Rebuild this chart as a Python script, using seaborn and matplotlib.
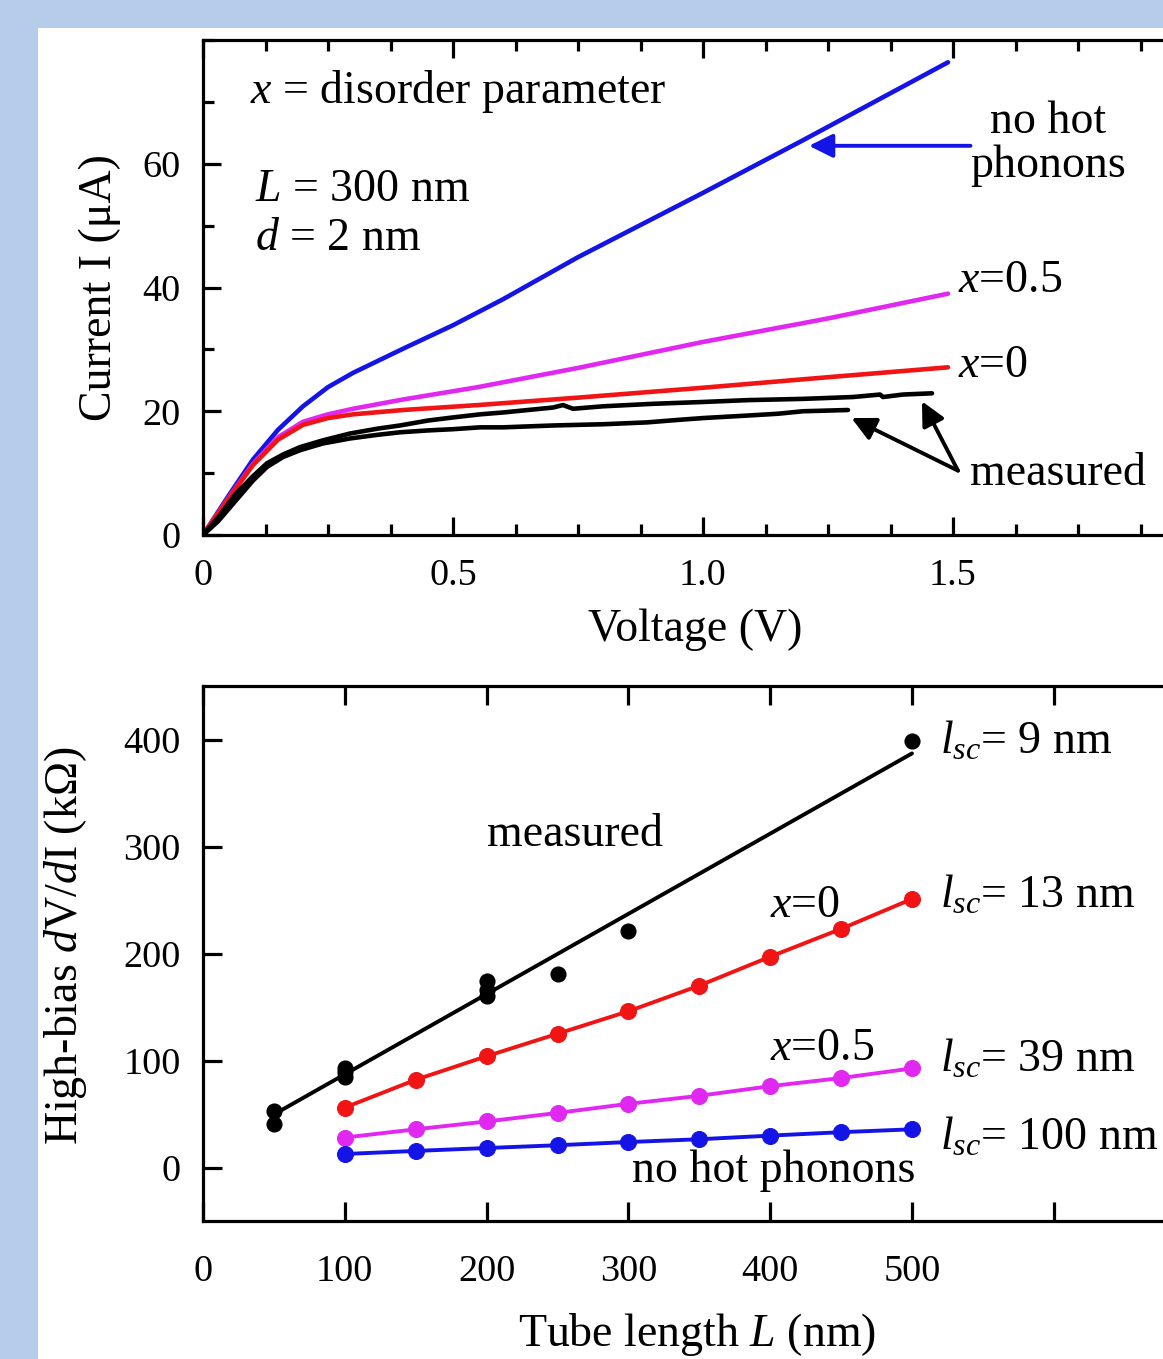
import numpy as np
import pandas as pd
import matplotlib
matplotlib.use("Agg")
import matplotlib.pyplot as plt
import seaborn as sns
from matplotlib.ticker import MultipleLocator, FixedLocator
from matplotlib.patches import Rectangle

# ---------------- data: top panel (I-V curves) ----------------
v_nohot = [0, 0.05, 0.1, 0.15, 0.2, 0.25, 0.3, 0.4, 0.5, 0.6, 0.75, 1.0, 1.2, 1.49]
i_nohot = [0, 6.2, 12.2, 17.0, 20.8, 23.9, 26.2, 30.1, 33.9, 38.1, 44.9, 55.3, 63.8, 76.4]

v_x05 = [0, 0.05, 0.1, 0.15, 0.2, 0.25, 0.3, 0.4, 0.55, 0.75, 1.0, 1.25, 1.49]
i_x05 = [0, 5.9, 11.5, 15.8, 18.3, 19.5, 20.4, 21.9, 23.9, 27.0, 31.2, 35.0, 39.0]

v_x0 = [0, 0.05, 0.1, 0.15, 0.2, 0.25, 0.3, 0.4, 0.55, 0.75, 1.0, 1.25, 1.49]
i_x0 = [0, 5.8, 11.3, 15.4, 17.8, 18.9, 19.5, 20.2, 21.0, 22.2, 23.8, 25.5, 27.1]

v_meas1 = [0, 0.03, 0.066, 0.1, 0.128, 0.16, 0.194, 0.24, 0.294, 0.35, 0.394, 0.45,
           0.5, 0.554, 0.6, 0.65, 0.7, 0.72, 0.74, 0.8, 0.9, 1.0, 1.09, 1.2, 1.3,
           1.354, 1.36, 1.4, 1.458]
i_meas1 = [0, 2.8, 6.7, 9.5, 11.6, 13.0, 14.2, 15.3, 16.4, 17.2, 17.7, 18.5,
           19.0, 19.5, 19.8, 20.2, 20.6, 21.0, 20.4, 20.8, 21.2, 21.5, 21.8, 22.0, 22.3,
           22.7, 22.3, 22.7, 22.9]

v_meas2 = [0, 0.03, 0.066, 0.1, 0.128, 0.16, 0.194, 0.24, 0.294, 0.35, 0.394, 0.45,
           0.5, 0.554, 0.6, 0.7, 0.8, 0.888, 0.95, 1.0, 1.088, 1.15, 1.2, 1.29]
i_meas2 = [0, 2.2, 5.6, 8.8, 11.0, 12.6, 13.7, 14.8, 15.6, 16.2, 16.6, 16.9,
           17.1, 17.4, 17.4, 17.7, 17.9, 18.2, 18.6, 18.9, 19.3, 19.6, 20.0, 20.2]

# ---------------- data: bottom panel (dV/dI vs L) ----------------
tube_len = [100, 150, 200, 250, 300, 350, 400, 450, 500]
r_x0 = [56, 82, 104, 125, 146, 170, 197, 223, 251]
r_x05 = [28, 35.7, 43, 51, 59.5, 67, 76, 83.6, 92.6]
r_nohot = [12.6, 15.5, 18.2, 20.8, 23.8, 26.4, 29.8, 33, 35.7]

meas_len = [50, 50, 100, 100, 100, 200, 200, 200, 250, 300, 500]
meas_r = [53, 41, 93, 89, 85, 174, 166, 160, 181, 221, 399]
fit_len = [50, 500]
fit_r = [49.6, 387]

top_xticklabels = ["0", "0.5", "1.0", "1.5", ""]
bot_xticklabels = ["0", "100", "200", "300", "400", "500", "", ""]
lsc_labels = ["9", "13", "39", "100"]

BLUE = "#1414e6"
MAG = "#e028f0"
RED = "#f01414"

# ---------------- style ----------------
sns.set_style("ticks")
plt.rcParams["font.family"] = ["Liberation Serif", "DejaVu Serif"]
plt.rcParams["mathtext.fontset"] = "custom"
plt.rcParams["mathtext.rm"] = "Liberation Serif"
plt.rcParams["mathtext.it"] = "Liberation Serif:italic"
plt.rcParams["mathtext.bf"] = "Liberation Serif:bold"
for key in ["text.color", "axes.labelcolor", "xtick.color", "ytick.color",
            "axes.edgecolor"]:
    plt.rcParams[key] = "black"

W, H = 1163, 1359
fig = plt.figure(figsize=(W / 100, H / 100), dpi=100)
fig.patch.set_facecolor("#b6cceb")
fig.add_artist(Rectangle((38 / W, 0), 1, (H - 28) / H, transform=fig.transFigure,
                         facecolor="white", edgecolor="none", zorder=0))

TICK_FS = 27.5
TXT_FS = 33


def px_axes(left, right, top, bottom):
    return fig.add_axes([left / W, (H - bottom) / H, (right - left) / W, (bottom - top) / H])


def style_axes(ax):
    for s in ["left", "top", "bottom"]:
        ax.spines[s].set_linewidth(2.3)
        ax.spines[s].set_color("black")
    ax.spines["right"].set_visible(False)
    ax.set_facecolor("none")


# ================= top panel =================
ax1 = px_axes(203, 1203, 40, 535)
style_axes(ax1)

curves = [
    (v_nohot, i_nohot, BLUE),
    (v_x05, i_x05, MAG),
    (v_x0, i_x0, RED),
    (v_meas1, i_meas1, "black"),
    (v_meas2, i_meas2, "black"),
]
for vv, ii, col in curves:
    df = pd.DataFrame({"V": vv, "I": ii})
    sns.lineplot(data=df, x="V", y="I", ax=ax1, color=col, linewidth=3.3,
                 sort=False, estimator=None, legend=False)

ax1.set_xlim(0, 2.0)
ax1.set_ylim(0, 80)
ax1.xaxis.set_major_locator(MultipleLocator(0.5))
ax1.xaxis.set_minor_locator(MultipleLocator(0.125))
ax1.yaxis.set_major_locator(FixedLocator([0, 20, 40, 60]))
ax1.yaxis.set_minor_locator(MultipleLocator(10))
ax1.set_xticks([0, 0.5, 1.0, 1.5, 2.0])
ax1.set_xticklabels(top_xticklabels)
ax1.tick_params(which="both", direction="in", top=True, right=False, width=2.3,
                labelsize=TICK_FS, colors="black")
ax1.tick_params(which="major", length=13)
ax1.tick_params(which="minor", length=8)
ax1.tick_params(axis="x", which="major", pad=17)
ax1.tick_params(axis="y", which="major", pad=16)

ax1.set_xlabel("Voltage (V)", fontsize=TXT_FS, va="center")
ax1.xaxis.set_label_coords(0.492, -0.192)
ax1.set_ylabel("Current I (μA)", fontsize=TXT_FS, va="center")
ax1.yaxis.set_label_coords(-0.103, 0.5)

ax1.text(0.094, 69.8, r"$x$ = disorder parameter", fontsize=TXT_FS, va="baseline")
ax1.text(0.104, 54.0, r"$L$ = 300 nm", fontsize=TXT_FS, va="baseline")
ax1.text(0.104, 46.0, r"$d$ = 2 nm", fontsize=TXT_FS, va="baseline")
ax1.text(1.69, 65.0, "no hot", fontsize=TXT_FS, va="baseline", ha="center")
ax1.text(1.69, 57.9, "phonons", fontsize=TXT_FS, va="baseline", ha="center")
ax1.text(1.51, 39.2, r"$x$=0.5", fontsize=TXT_FS, va="baseline")
ax1.text(1.51, 25.6, r"$x$=0", fontsize=TXT_FS, va="baseline")
ax1.text(1.534, 8.1, "measured", fontsize=TXT_FS, va="baseline")

ax1.annotate("", xy=(1.212, 62.9), xytext=(1.535, 62.9),
             arrowprops=dict(arrowstyle="-|>", color=BLUE, lw=2.8, mutation_scale=36,
                             shrinkA=0, shrinkB=0))
for tip in [(1.297, 18.9), (1.438, 21.6)]:
    ax1.annotate("", xy=tip, xytext=(1.51, 10.4),
                 arrowprops=dict(arrowstyle="-|>", color="black", lw=2.8,
                                 mutation_scale=36, shrinkA=0, shrinkB=0))

# ================= bottom panel =================
ax2 = px_axes(203, 203 + 700 * 1.418, 686, 1221)
style_axes(ax2)

for rr, col in [(r_x0, RED), (r_x05, MAG), (r_nohot, BLUE)]:
    df = pd.DataFrame({"L": tube_len, "R": rr})
    sns.lineplot(data=df, x="L", y="R", ax=ax2, color=col, linewidth=2.8, marker="o",
                 markersize=11.5, markeredgecolor=col, sort=False, estimator=None,
                 legend=False)

sns.lineplot(x=fit_len, y=fit_r, ax=ax2, color="black", linewidth=2.8, sort=False,
             estimator=None, legend=False)
sns.scatterplot(x=meas_len, y=meas_r, ax=ax2, color="black", s=135,
                edgecolor="black", linewidth=0, legend=False, zorder=5)

ax2.set_xlim(0, 700)
ax2.set_ylim(-50, 450)
ax2.set_xticks([0, 100, 200, 300, 400, 500, 600, 700])
ax2.set_xticklabels(bot_xticklabels)
ax2.set_yticks([0, 100, 200, 300, 400])
ax2.tick_params(which="both", direction="in", top=True, right=False, width=2.3,
                length=14, labelsize=TICK_FS, colors="black")
ax2.tick_params(axis="x", pad=24)
ax2.tick_params(axis="y", pad=16)

ax2.set_xlabel(r"Tube length $L$ (nm)", fontsize=TXT_FS, va="center")
ax2.xaxis.set_label_coords(0.498, -0.213)
ax2.set_ylabel(r"High-bias $d$V/$d$I (kΩ)", fontsize=TXT_FS, va="center")
ax2.yaxis.set_label_coords(-0.139, 0.515)

ax2.text(200.3, 300.5, "measured", fontsize=TXT_FS, va="baseline")
ax2.text(400, 234, r"$x$=0", fontsize=TXT_FS, va="baseline")
ax2.text(400, 100.5, r"$x$=0.5", fontsize=TXT_FS, va="baseline")
ax2.text(302.5, -14, "no hot phonons", fontsize=TXT_FS, va="baseline")
for lab, yb in zip(lsc_labels, [387, 243, 90, 16.7]):
    ax2.text(519.7, yb, r"$l_{sc}$= " + lab + " nm", fontsize=TXT_FS, va="baseline")

fig.savefig("out.png", dpi=100)
